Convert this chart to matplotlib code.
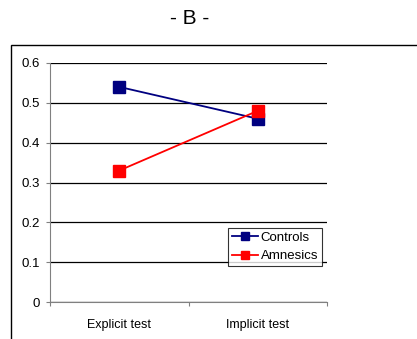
import matplotlib
matplotlib.use("Agg")
import matplotlib.pyplot as plt
from matplotlib.patches import Rectangle
import numpy as np

plt.rcParams['font.family'] = ['Liberation Sans', 'DejaVu Sans']

categories = ['Explicit test', 'Implicit test']
controls = [0.54, 0.46]
amnesics = [0.33, 0.48]
yticks = [0, 0.1, 0.2, 0.3, 0.4, 0.5, 0.6]

fig = plt.figure(figsize=(4.17, 3.39), dpi=100)
ax = fig.add_axes([0.1199, 0.1091, 0.6643, 0.7051])

# outer chart frame (cut by the image edge on the right and bottom)
fig.patches.append(Rectangle((11 / 417, -0.05), 1.2, (339 - 45) / 339 + 0.05,
                             transform=fig.transFigure, fill=False,
                             edgecolor='black', linewidth=1.0))

x = np.arange(len(categories))
ax.plot(x, controls, color='#000080', marker='s', markersize=8,
        linewidth=1.3, label='Controls', zorder=3)
ax.plot(x, amnesics, color='#ff0000', marker='s', markersize=8,
        linewidth=1.3, label='Amnesics', zorder=3)

ax.set_xlim(-0.5, 1.5)
ax.set_ylim(0, 0.6)
ax.set_yticks(yticks)
ax.set_yticklabels(['0', '0.1', '0.2', '0.3', '0.4', '0.5', '0.6'])
ax.set_xticks([-0.5, 0.5, 1.5])
ax.set_xticklabels([])
ax.set_xticks(x, minor=True)
ax.set_xticklabels(categories, minor=True)
ax.tick_params(axis='x', which='minor', length=0, pad=12, labelsize=9)
ax.tick_params(axis='x', which='major', length=3, direction='out', color='#808080')
ax.tick_params(axis='y', length=3, color='#808080', labelsize=9.5, pad=4)

ax.yaxis.grid(True, color='black', linewidth=0.9)
ax.set_axisbelow(True)
for s in ['top', 'right']:
    ax.spines[s].set_visible(False)
ax.spines['left'].set_color('#808080')
ax.spines['bottom'].set_color('#808080')

leg = ax.legend(loc='lower right', bbox_to_anchor=(0.982, 0.15), fontsize=9.5,
                frameon=True, fancybox=False, handlelength=2.0, markerscale=0.8,
                handletextpad=0.2, borderpad=0.3, labelspacing=0.45,
                borderaxespad=0)
leg.get_frame().set_edgecolor('black')
leg.get_frame().set_linewidth(0.8)

fig.text(190 / 417, 1 - 18 / 339, '- B -', ha='center', va='center', fontsize=15)

fig.savefig('out.png', dpi=100)
